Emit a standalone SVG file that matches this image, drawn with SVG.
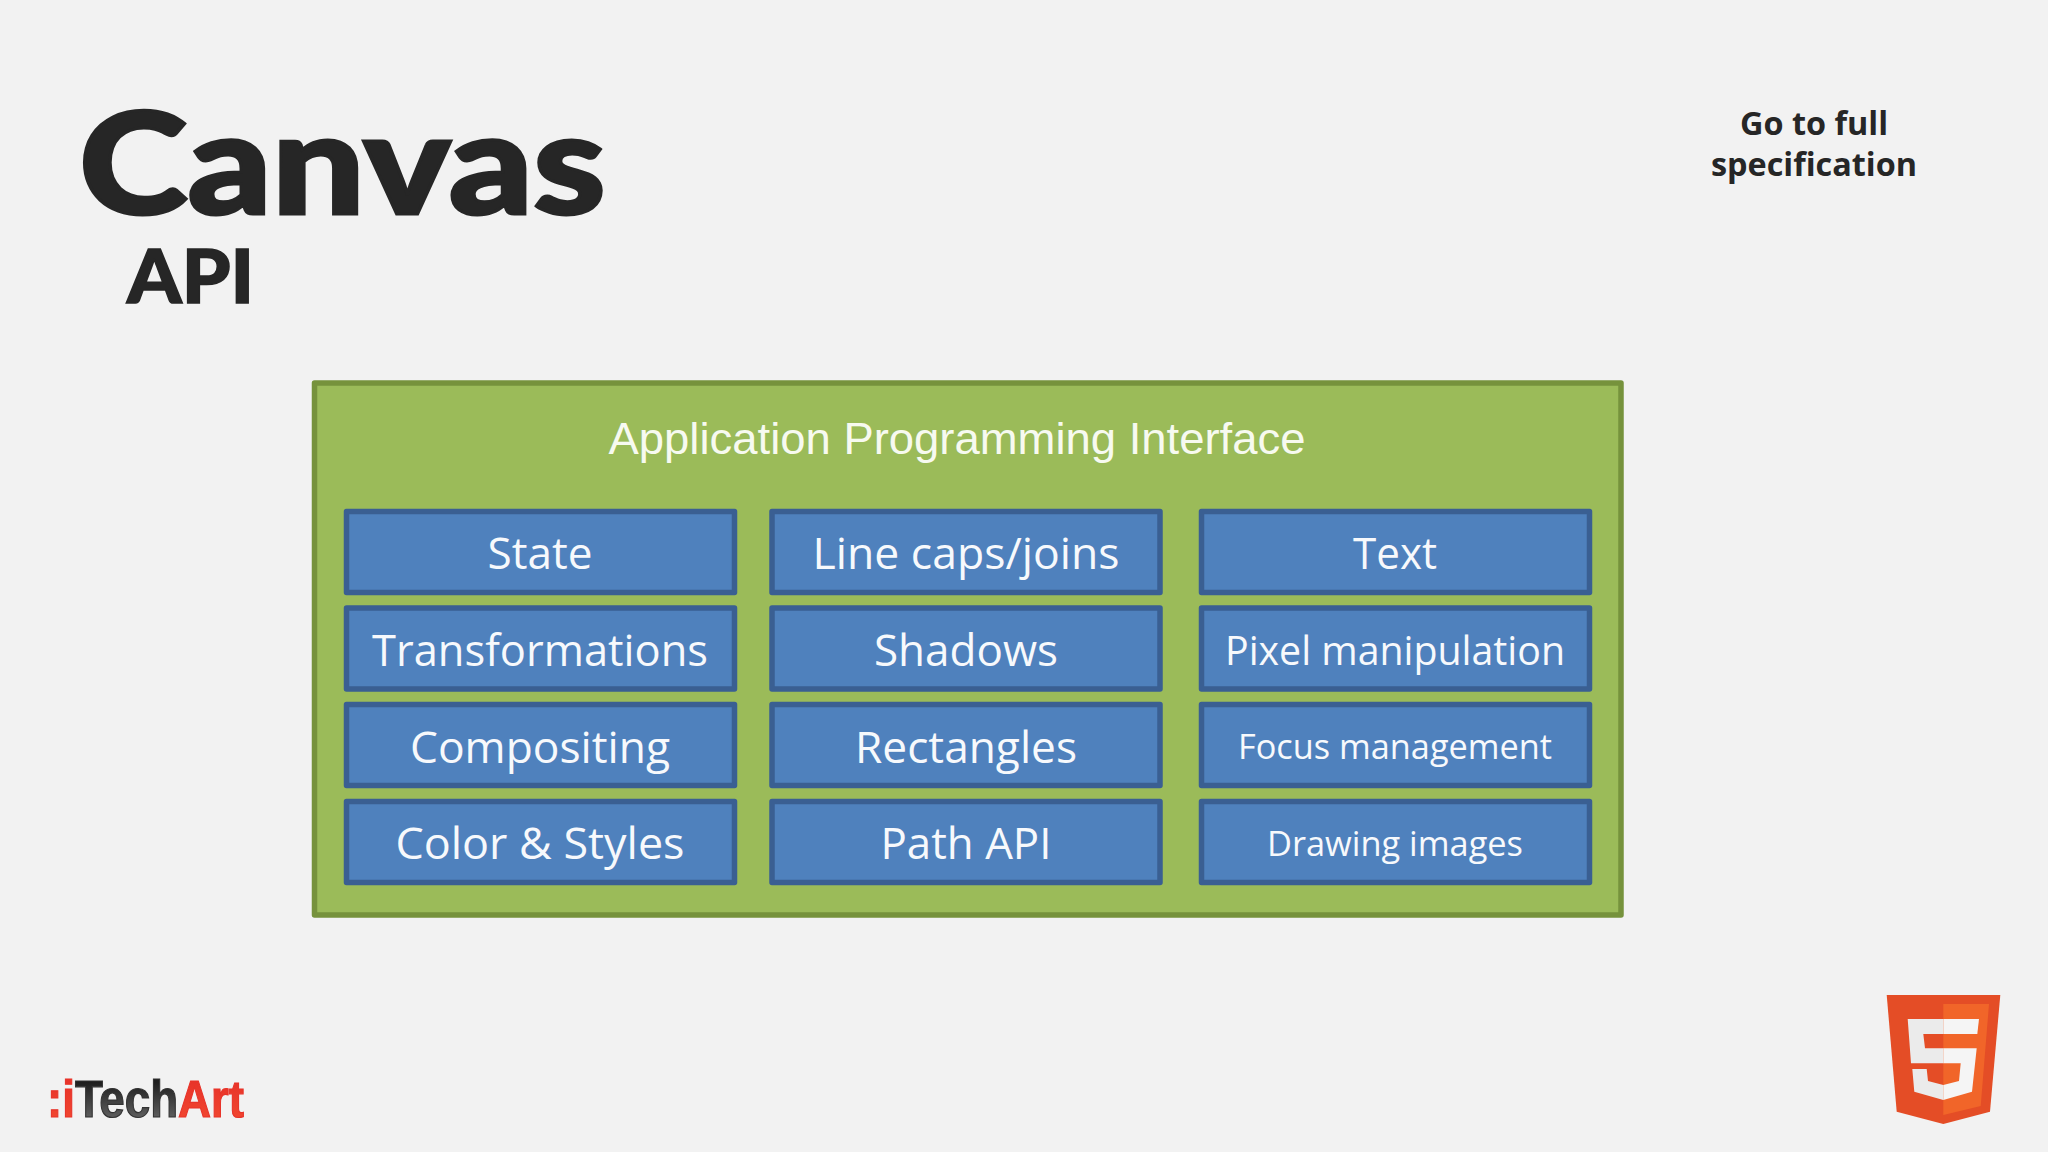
<svg xmlns="http://www.w3.org/2000/svg" width="2048" height="1152" viewBox="0 0 2048 1152">
<style>
.cell{fill:#4f81bd;stroke:#3a5f92;stroke-width:5.5;stroke-linejoin:round}
.lbl{font-family:"Open Sans","Noto Sans",sans-serif;fill:#f7f9fc;text-anchor:middle;font-size:44px}
.head{font-family:Lato,"Open Sans",sans-serif;font-weight:900;fill:#262626}
.go{font-family:"Open Sans","Noto Sans",sans-serif;font-weight:700;font-size:32.400px;fill:#262626;text-anchor:middle}
</style>
<defs>
<linearGradient id="dark" x1="0" y1="0" x2="0" y2="1"><stop offset="0.2" stop-color="#1f1f1f"/><stop offset="0.8" stop-color="#5c5c5c"/></linearGradient>
<linearGradient id="red" x1="0" y1="0" x2="0" y2="1"><stop offset="0.2" stop-color="#e8342a"/><stop offset="0.8" stop-color="#f0452f"/></linearGradient>
</defs>
<rect width="2048" height="1152" fill="#f2f2f2"/>
<g id="title">
<text class="head" x="79" y="214" font-size="142" textLength="527" lengthAdjust="spacingAndGlyphs" stroke="#262626" stroke-width="3">Canvas</text>
<text class="head" x="127" y="303" font-size="75" textLength="127" lengthAdjust="spacingAndGlyphs" stroke="#262626" stroke-width="1.500">API</text>
</g>
<g id="spec-link">
<text class="go" x="1814" y="135">Go to full</text>
<text class="go" x="1814" y="176">specification</text>
</g>
<g id="api-container">
<rect x="314.500" y="383" width="1306.500" height="532" fill="#9bbb59" stroke="#76923c" stroke-width="5.500" stroke-linejoin="round"/>
<text x="957" y="453.500" font-family="'Liberation Sans',Arial,sans-serif" font-size="45" fill="#f7faf0" text-anchor="middle" textLength="697" lengthAdjust="spacingAndGlyphs">Application Programming Interface</text>
</g>
<g id="state"><rect class="cell" x="346.500" y="511.500" width="388" height="81"/><text class="lbl" x="540" y="569" textLength="105" lengthAdjust="spacingAndGlyphs">State</text></g>
<g id="line-caps"><rect class="cell" x="772" y="511.500" width="388" height="81"/><text class="lbl" x="966" y="569" textLength="307" lengthAdjust="spacingAndGlyphs">Line caps/joins</text></g>
<g id="text"><rect class="cell" x="1201.500" y="511.500" width="388" height="81"/><text class="lbl" x="1395" y="569" textLength="84" lengthAdjust="spacingAndGlyphs">Text</text></g>
<g id="transformations"><rect class="cell" x="346.500" y="608" width="388" height="81"/><text class="lbl" x="540" y="665.500" textLength="336" lengthAdjust="spacingAndGlyphs">Transformations</text></g>
<g id="shadows"><rect class="cell" x="772" y="608" width="388" height="81"/><text class="lbl" x="966" y="665.500" textLength="184" lengthAdjust="spacingAndGlyphs">Shadows</text></g>
<g id="pixel"><rect class="cell" x="1201.500" y="608" width="388" height="81"/><text class="lbl" x="1395" y="664.500" style="font-size:40px" textLength="340" lengthAdjust="spacingAndGlyphs">Pixel manipulation</text></g>
<g id="compositing"><rect class="cell" x="346.500" y="704.500" width="388" height="81"/><text class="lbl" x="540" y="762.500" textLength="260" lengthAdjust="spacingAndGlyphs">Compositing</text></g>
<g id="rectangles"><rect class="cell" x="772" y="704.500" width="388" height="81"/><text class="lbl" x="966" y="762.500" textLength="222" lengthAdjust="spacingAndGlyphs">Rectangles</text></g>
<g id="focus"><rect class="cell" x="1201.500" y="704.500" width="388" height="81"/><text class="lbl" x="1395" y="759" style="font-size:35px" textLength="314" lengthAdjust="spacingAndGlyphs">Focus management</text></g>
<g id="color-styles"><rect class="cell" x="346.500" y="801.500" width="388" height="81"/><text class="lbl" x="540" y="859" textLength="289" lengthAdjust="spacingAndGlyphs">Color &amp; Styles</text></g>
<g id="path-api"><rect class="cell" x="772" y="801.500" width="388" height="81"/><text class="lbl" x="966" y="859" textLength="171" lengthAdjust="spacingAndGlyphs">Path API</text></g>
<g id="drawing"><rect class="cell" x="1201.500" y="801.500" width="388" height="81"/><text class="lbl" x="1395" y="856" style="font-size:35px" textLength="256" lengthAdjust="spacingAndGlyphs">Drawing images</text></g>
<g id="connectors"></g>
<g id="itechart-logo">
<text x="47" y="1117" font-family="'Liberation Sans',Arial,sans-serif" font-weight="700" font-size="51" textLength="197" lengthAdjust="spacingAndGlyphs" fill="url(#red)" stroke="#3a3a3a" stroke-opacity="0"><tspan stroke="#e8342a" stroke-opacity="1" stroke-width="1.200">:i</tspan><tspan fill="url(#dark)" stroke="#333333" stroke-opacity="1" stroke-width="1.200">Tech</tspan><tspan stroke="#e8342a" stroke-opacity="1" stroke-width="1.200">Art</tspan></text>
</g>
<g id="html5-logo">
<polygon points="1886.700,995 2000.300,995 1990,1111.700 1943.300,1124 1896.700,1111.700" fill="#e44d26"/>
<polygon points="1943.300,1004 1989,1004 1980.700,1106 1943.300,1115" fill="#f16529"/>
<polygon points="1907.700,1019 1943.300,1019 1943.300,1034 1923.300,1034 1925,1048.300 1943.300,1048.300 1943.300,1063.300 1911,1063.300" fill="#ebebeb"/>
<polygon points="1912.300,1069 1926.700,1069 1928,1081 1943.300,1085 1943.300,1100 1914.300,1091.700" fill="#ebebeb"/>
<polygon points="1943.300,1019 1979,1019 1977.300,1034 1943.300,1034" fill="#f5f5f5"/>
<polygon points="1943.300,1048.300 1976.700,1048.300 1972,1091.700 1943.300,1100 1943.300,1085 1959,1081 1960.700,1063.300 1943.300,1063.300" fill="#f5f5f5"/>
</g>
</svg>
